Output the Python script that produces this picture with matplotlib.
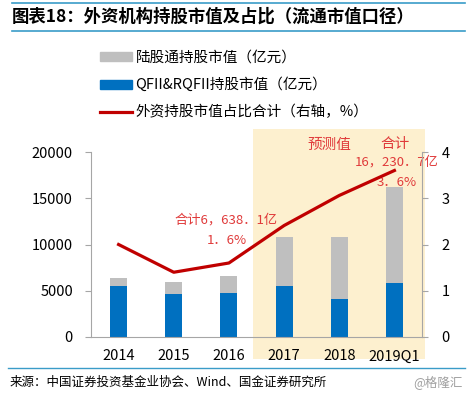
import matplotlib
matplotlib.use("Agg")
import matplotlib.pyplot as plt
from matplotlib.patches import Patch, Rectangle
from matplotlib.lines import Line2D
import numpy as np

plt.rcParams["font.family"] = ["Noto Sans CJK SC", "DejaVu Sans"]

# data
years = ["2014", "2015", "2016", "2017", "2018", "2019Q1"]
qfii = [5540, 4680, 4790, 5540, 4110, 5870]        # QFII&RQFII 持股市值（亿元）
total = [6410, 5950, 6638, 10810, 10810, 16231]    # 合计（亿元）
hk_connect = [t - q for t, q in zip(total, qfii)]  # 陆股通持股市值（亿元）
share = [2.0, 1.4, 1.6, 2.41, 3.06, 3.6]           # 外资持股市值占比（%）

blue = "#0070C0"
grey = "#BFBFBF"
red = "#C00000"
note_red = "#E03A3A"
teal = "#3A9CC8"
spine_c = "#A6A6A6"

fig = plt.figure(figsize=(4.7, 3.95), dpi=100)

# forecast highlight behind everything
fig.add_artist(Rectangle((253 / 470, 1 - 359 / 395), 172 / 470, 230 / 395,
                         transform=fig.transFigure, facecolor="#FDF0CF",
                         edgecolor="none", zorder=-5))

ax = fig.add_axes([91 / 470, 1 - 337 / 395, 331 / 470, 185 / 395])
ax.patch.set_visible(False)
x = np.arange(len(years))
ax.bar(x, qfii, width=0.31, color=blue, zorder=2)
ax.bar(x, hk_connect, bottom=qfii, width=0.31, color=grey, zorder=2)
ax.set_xlim(-0.5, 5.5)
ax.set_ylim(0, 20000)
ax.set_yticks([0, 5000, 10000, 15000, 20000])
ax.set_xticks(x)
ax.set_xticklabels(years)
ax.tick_params(axis="x", length=0, pad=9, labelsize=10.5)
ax.tick_params(axis="y", length=4, pad=9, labelsize=10.5, color=spine_c)
for s in ["top", "right"]:
    ax.spines[s].set_visible(False)
for s in ["left", "bottom"]:
    ax.spines[s].set_color(spine_c)

ax2 = ax.twinx()
ax2.plot(x, share, color=red, linewidth=2.3, zorder=3)
ax2.set_ylim(0, 4)
ax2.set_yticks([0, 1, 2, 3, 4])
ax2.tick_params(axis="y", length=4, pad=10, labelsize=10.5, color=spine_c)
for s in ["top", "left", "bottom"]:
    ax2.spines[s].set_visible(False)
ax2.spines["right"].set_color(spine_c)

# annotations
ax.text(3.83, 20800, "预测值", color=note_red, fontsize=10.5, ha="center", va="center")
ax.text(5.01, 20900, "合计", color=note_red, fontsize=10.5, ha="center", va="center")
ax.text(5.04, 18900, "16，230．7亿", color=note_red, fontsize=9.5, ha="center", va="center")
ax.text(5.04, 16750, "3．6%", color=note_red, fontsize=9.5, ha="center", va="center")
ax.text(1.95, 12650, "合计6，638．1亿", color=note_red, fontsize=9.5, ha="center", va="center")
ax.text(1.96, 10380, "1．6%", color=note_red, fontsize=9.5, ha="center", va="center")

# legend
handles = [Patch(color=grey), Patch(color=blue), Line2D([], [], color=red, linewidth=2.3)]
labels = ["陆股通持股市值（亿元）", "QFII&RQFII持股市值（亿元）", "外资持股市值占比合计（右轴，%）"]
fig.legend(handles, labels, loc="upper left", bbox_to_anchor=(94 / 470, 1 - 45 / 395),
           frameon=False, fontsize=10.5, handlelength=2.2, handleheight=0.6,
           handletextpad=0.25, labelspacing=0.88, borderaxespad=0)

# title block
fig.add_artist(Line2D([12 / 470, 465 / 470], [1 - 3 / 395] * 2, color=teal, linewidth=1.2))
fig.add_artist(Line2D([12 / 470, 465 / 470], [1 - 31 / 395] * 2, color=teal, linewidth=1.2))
fig.text(12 / 470, 1 - 17 / 395, "图表18：外资机构持股市值及占比（流通市值口径）",
         fontsize=12.5, fontweight="bold", ha="left", va="center")

# footer
fig.add_artist(Line2D([8 / 470, 465 / 470], [1 - 368 / 395] * 2, color=teal, linewidth=1.0))
fig.text(10 / 470, 1 - 382 / 395, "来源：中国证券投资基金业协会、Wind、国金证券研究所",
         fontsize=9, ha="left", va="center")
fig.text(463 / 470, 1 - 382 / 395, "@格隆汇", fontsize=9, color="#A0A0A0",
         ha="right", va="center")

fig.savefig("out.png", dpi=100)
